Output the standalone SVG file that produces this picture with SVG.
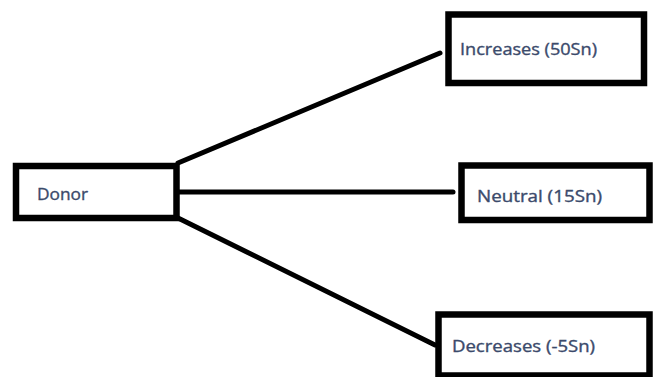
<svg xmlns="http://www.w3.org/2000/svg" width="653" height="377" viewBox="0 0 653 377">
<style>
.box{fill:#fff;stroke:#000;stroke-width:6.5}
.lbl{font-family:"Open Sans","Liberation Sans",sans-serif;font-size:16px;fill:#3b4a6b;stroke:#3b4a6b;stroke-width:0.35}
.conn{stroke:#000;stroke-width:5;stroke-linecap:round;fill:none}
</style>
<rect width="653" height="377" fill="#fff"/>
<g id="connectors">
<line class="conn" x1="178" y1="163" x2="440" y2="53"/>
<line class="conn" x1="178" y1="192" x2="453" y2="192"/>
<line class="conn" x1="178" y1="218" x2="435" y2="345"/>
</g>
<g id="donor">
<rect class="box" x="16" y="166" width="160.5" height="52" stroke-width="7"/>
<text class="lbl" x="37" y="200" textLength="51" lengthAdjust="spacingAndGlyphs">Donor</text>
</g>
<g id="increases">
<rect class="box" x="448.5" y="14.5" width="195.5" height="68.5"/>
<text class="lbl" x="460" y="55" textLength="137" lengthAdjust="spacingAndGlyphs">Increases (50Sn)</text>
</g>
<g id="neutral">
<rect class="box" x="461.5" y="165.5" width="188" height="54.5"/>
<text class="lbl" x="477" y="202" textLength="125" lengthAdjust="spacingAndGlyphs">Neutral (15Sn)</text>
</g>
<g id="decreases">
<rect class="box" x="438.5" y="314.5" width="211" height="61"/>
<text class="lbl" x="452" y="352" textLength="143" lengthAdjust="spacingAndGlyphs">Decreases (-5Sn)</text>
</g>
</svg>
